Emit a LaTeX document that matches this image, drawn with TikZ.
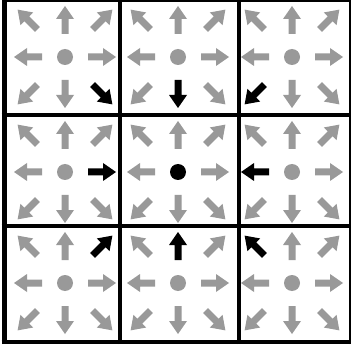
\documentclass[tikz,border=0pt]{standalone}
\definecolor{arrgray}{RGB}{153,153,153}
\begin{document}
\begin{tikzpicture}[x=1pt,y=1pt,
  gridline/.style={line width=4pt,black,line cap=butt},
]
\useasboundingbox (0,0) rectangle (351,346);
\clip (0,0) rectangle (351,346);
\fill[white] (0,0) rectangle (351,346);
% cells: centre x / centre y / angle of the black arrow (-1 = black dot)
\foreach \cx/\cy/\tgt in {65/289/315, 178/289/270, 292/289/225,
                          65/174/0,   178/174/-1,  292/174/180,
                          65/63/45,   178/63/90,   292/63/135} {
  \ifnum\tgt=-1\relax \def\dotcol{black}\else\def\dotcol{arrgray}\fi
  \fill[\dotcol] (\cx,\cy) circle (8);
  \foreach \a in {0,45,...,315} {
    \pgfmathtruncatemacro\isdiag{mod(\a,90)==0 ? 0 : 1}
    \ifnum\isdiag=1\relax \def\r{39}\else\def\r{23}\fi
    \ifnum\a=\tgt\relax \def\acol{black}\else\def\acol{arrgray}\fi
    \fill[\acol, shift={(\cx,\cy)}, rotate=\a]
      (\r,-3.5) -- (\r+15,-3.5) -- (\r+15,-9) -- (\r+28,0)
      -- (\r+15,9) -- (\r+15,3.5) -- (\r,3.5) -- cycle;
  }
}
% grid
\draw[gridline, line width=5pt] (4,2) -- (4,346);
\foreach \gx in {120,239,351} \draw[gridline] (\gx,2) -- (\gx,346);
\foreach \gy in {346,231,120,4} \draw[gridline] (1.5,\gy) -- (351,\gy);
\end{tikzpicture}
\end{document}
